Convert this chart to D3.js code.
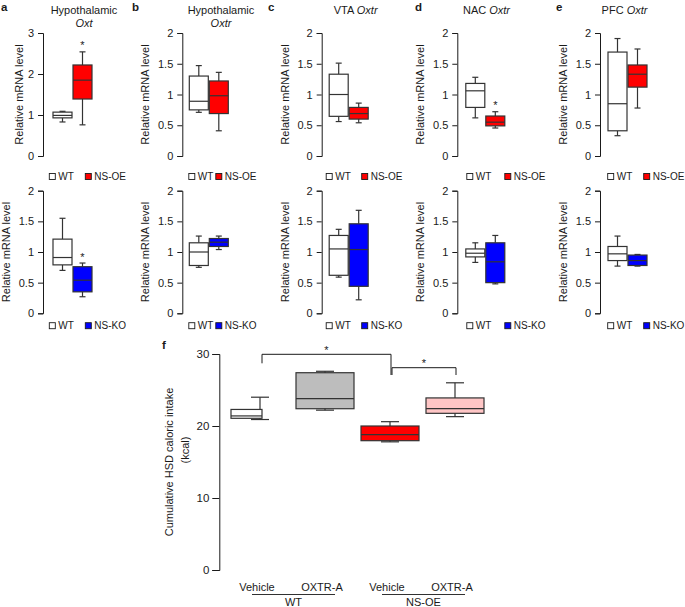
<!DOCTYPE html>
<html>
<head>
<meta charset="utf-8">
<style>
  body { margin: 0; background: #fff; }
  svg text { font-family: "Liberation Sans", Arial, sans-serif; fill: #1a1a1a; }
</style>
</head>
<body>
<div id="chart"></div>
<script src="https://d3js.org/d3.v7.min.js"></script>
<script>
// ---- data ----
const panelLetters = ['a', 'b', 'c', 'd', 'e'];
const titleRegion = ['Hypothalamic', 'Hypothalamic', 'VTA', 'NAC', 'PFC'];
const titleGene = ['Oxt', 'Oxtr', 'Oxtr', 'Oxtr', 'Oxtr'];
const topMax = [3, 2, 2, 2, 2];
const bottomMax = [2, 2, 2, 2, 2];
const oeGroups = ['WT', 'NS-OE'];
const koGroups = ['WT', 'NS-KO'];

// box stats: [low whisker, Q1, median, Q3, high whisker]
const oeWT = [
  [0.83, 0.93, 0.99, 1.07, 1.09],
  [0.71, 0.75, 0.89, 1.30, 1.47],
  [0.56, 0.645, 1.00, 1.33, 1.51],
  [0.62, 0.79, 1.06, 1.18, 1.28],
  [0.33, 0.41, 0.85, 1.69, 1.91]
];
const oeNS = [
  [0.76, 1.39, 1.85, 2.22, 2.54],
  [0.41, 0.69, 0.98, 1.22, 1.36],
  [0.54, 0.60, 0.69, 0.79, 0.86],
  [0.455, 0.49, 0.55, 0.65, 0.72],
  [0.78, 1.12, 1.33, 1.48, 1.74]
];
const koWT = [
  [0.70, 0.79, 0.91, 1.21, 1.55],
  [0.75, 0.78, 1.00, 1.15, 1.26],
  [0.59, 0.62, 1.05, 1.27, 1.37],
  [0.83, 0.92, 0.98, 1.05, 1.15],
  [0.77, 0.86, 0.97, 1.09, 1.26]
];
const koNS = [
  [0.27, 0.35, 0.54, 0.76, 0.82],
  [1.04, 1.09, 1.16, 1.22, 1.26],
  [0.22, 0.44, 1.04, 1.46, 1.68],
  [0.48, 0.50, 0.84, 1.15, 1.27],
  [0.77, 0.78, 0.86, 0.95, 0.96]
];
const oeSig = [true, false, false, true, false];
const koSig = [true, false, false, false, false];

// panel f
const fConditions = ['Vehicle', 'OXTR-A', 'Vehicle', 'OXTR-A'];
const fGenotypes = ['WT', 'NS-OE'];
const fStats = [
  [20.9, 21.07, 21.4, 22.3, 24.0],
  [22.2, 22.4, 23.8, 27.4, 27.6],
  [17.8, 17.96, 18.8, 20.0, 20.6],
  [21.3, 21.76, 22.4, 23.9, 26.0]
];
const fTicks = [0, 10, 20, 30];
const fComparisons = [[0, 2], [2, 3]];

// ---- layout / style ----
const W = 685, H = 607;
const ink = '#1a1a1a', boxInk = '#333';
const red = '#ff0000', blue = '#0000ff';
const colX = [43, 182.3, 321.7, 457.3, 600];
const boxOff = [10, 7, 7.5, 8.5, 8];
const titleOff = [41, 38.7, 34, 29.2, 24.5];
const letterX = [1, 132, 268, 415, 556];
const legendOff = [6.3, 6.5, 4.5, 9.5, 7.7];
const legendGap = [36, 27, 35.5, 38, 36];
const fmt = d3.format('~g');

const svg = d3.select('#chart').append('svg')
  .attr('width', W).attr('height', H);

function drawPanel(i, yBottom, yTop, max, groups, wt, ns, color, sig, legendY) {
  const ax = colX[i];
  const g = svg.append('g');
  const y = d3.scaleLinear().domain([0, max]).range([yBottom, yTop]);
  const x = d3.scaleBand().domain(groups)
    .range([ax + boxOff[i], ax + boxOff[i] + 39]).paddingInner(0.05);

  const axis = g.append('g').attr('transform', `translate(${ax},0)`)
    .call(d3.axisLeft(y).ticks(4).tickFormat(fmt)
      .tickSize(5).tickSizeOuter(5).tickPadding(4));
  axis.selectAll('path,line').attr('stroke', ink);
  axis.selectAll('text').attr('font-size', 11).attr('fill', ink)
    .attr('font-family', '"Liberation Sans", Arial, sans-serif');

  const labelOff = max === 3 ? 20 : 33;
  g.append('text')
    .attr('transform', `translate(${ax - labelOff},${(yBottom + yTop) / 2})rotate(-90)`)
    .attr('text-anchor', 'middle').attr('font-size', 11)
    .text('Relative mRNA level');

  const stats = [wt, ns];
  const fills = ['#fff', color];
  groups.forEach((grp, k) => {
    const s = stats[k];
    const x0 = x(grp), bw = x.bandwidth(), cx = x0 + bw / 2;
    const cap = 6;
    g.append('line').attr('x1', cx).attr('x2', cx)
      .attr('y1', y(s[0])).attr('y2', y(s[1]))
      .attr('stroke', boxInk).attr('stroke-width', 1.2);
    g.append('line').attr('x1', cx).attr('x2', cx)
      .attr('y1', y(s[3])).attr('y2', y(s[4]))
      .attr('stroke', boxInk).attr('stroke-width', 1.2);
    [s[0], s[4]].forEach(v => {
      g.append('line').attr('x1', cx - cap / 2).attr('x2', cx + cap / 2)
        .attr('y1', y(v)).attr('y2', y(v))
        .attr('stroke', boxInk).attr('stroke-width', 1.2);
    });
    g.append('rect').attr('x', x0).attr('width', bw)
      .attr('y', y(s[3])).attr('height', y(s[1]) - y(s[3]))
      .attr('fill', fills[k]).attr('stroke', boxInk).attr('stroke-width', 1.2);
    g.append('line').attr('x1', x0).attr('x2', x0 + bw)
      .attr('y1', y(s[2])).attr('y2', y(s[2]))
      .attr('stroke', boxInk).attr('stroke-width', 1.2);
    if (k === 1 && sig) {
      g.append('text').attr('x', cx).attr('y', y(s[4]) - 2.5)
        .attr('text-anchor', 'middle').attr('font-size', 11).text('*');
    }
  });

  // legend
  const lx = ax + legendOff[i];
  const items = [{ t: groups[0], c: '#fff', x: lx }, { t: groups[1], c: color, x: lx + legendGap[i] }];
  items.forEach(it => {
    g.append('rect').attr('x', it.x).attr('y', legendY - 3).attr('width', 6).attr('height', 6)
      .attr('fill', it.c).attr('stroke', ink).attr('stroke-width', 0.9);
    g.append('text').attr('x', it.x + 9).attr('y', legendY + 3.6)
      .attr('font-size', 10).text(it.t);
  });
}

panelLetters.forEach((p, i) => {
  drawPanel(i, 156, 33, topMax[i], oeGroups, oeWT[i], oeNS[i], red, oeSig[i], 176.5);
  drawPanel(i, 313.3, 190.7, bottomMax[i], koGroups, koWT[i], koNS[i], blue, koSig[i], 325.7);

  svg.append('text').attr('x', letterX[i]).attr('y', 10.5)
    .attr('font-size', 11.5).attr('font-weight', 'bold').text(p);

  const tx = colX[i] + titleOff[i];
  if (titleRegion[i] === 'Hypothalamic') {
    svg.append('text').attr('x', tx).attr('y', 13.5).attr('text-anchor', 'middle')
      .attr('font-size', 11).text(titleRegion[i]);
    svg.append('text').attr('x', tx).attr('y', 27).attr('text-anchor', 'middle')
      .attr('font-size', 11).attr('font-style', 'italic').text(titleGene[i]);
  } else {
    const t = svg.append('text').attr('x', tx).attr('y', 13.5).attr('text-anchor', 'middle')
      .attr('font-size', 11);
    t.append('tspan').text(titleRegion[i] + ' ');
    t.append('tspan').attr('font-style', 'italic').text(titleGene[i]);
  }
});

// ---- panel f ----
const fAxisX = 219.3;
const yF = d3.scaleLinear().domain([0, 30]).range([570, 354]);
const xF = d3.scalePoint().domain(d3.range(fConditions.length)).range([260, 455]);
const fFill = ['#ffffff', '#bdbdbd', red, '#ffc6c6'];
const fBoxW = [31, 58, 58, 58];
const gf = svg.append('g');

svg.append('text').attr('x', 162).attr('y', 349)
  .attr('font-size', 11.5).attr('font-weight', 'bold').text('f');

const fAxis = gf.append('g').attr('transform', `translate(${fAxisX},0)`)
  .call(d3.axisLeft(yF).tickValues(fTicks).tickSize(7).tickSizeOuter(7).tickPadding(3));
fAxis.selectAll('path,line').attr('stroke', ink);
fAxis.selectAll('text').attr('font-size', 11.5).attr('fill', ink)
  .attr('font-family', '"Liberation Sans", Arial, sans-serif');

gf.append('text').attr('transform', `translate(173,462)rotate(-90)`)
  .attr('text-anchor', 'middle').attr('font-size', 11).text('Cumulative HSD caloric intake');
gf.append('text').attr('transform', `translate(189,450)rotate(-90)`)
  .attr('text-anchor', 'middle').attr('font-size', 11).text('(kcal)');

fStats.forEach((s, i) => {
  const cx = xF(i), x0 = cx - 29, bw = fBoxW[i], cap = 18;
  gf.append('line').attr('x1', cx).attr('x2', cx).attr('y1', yF(s[0])).attr('y2', yF(s[4]))
    .attr('stroke', boxInk).attr('stroke-width', 1.2);
  [s[0], s[4]].forEach(v => {
    gf.append('line').attr('x1', cx - cap / 2).attr('x2', cx + cap / 2)
      .attr('y1', yF(v)).attr('y2', yF(v)).attr('stroke', boxInk).attr('stroke-width', 1.2);
  });
  gf.append('rect').attr('x', x0).attr('width', bw)
    .attr('y', yF(s[3])).attr('height', yF(s[1]) - yF(s[3]))
    .attr('fill', fFill[i]).attr('stroke', boxInk).attr('stroke-width', 1.2);
  gf.append('line').attr('x1', x0).attr('x2', x0 + bw)
    .attr('y1', yF(s[2])).attr('y2', yF(s[2])).attr('stroke', boxInk).attr('stroke-width', 1.2);
  gf.append('text').attr('x', cx - 3).attr('y', 590.5).attr('text-anchor', 'middle')
    .attr('font-size', 11).text(fConditions[i]);
});

fGenotypes.forEach((gname, k) => {
  const a = xF(k * 2) - 8, b = xF(k * 2 + 1) + 10;
  gf.append('line').attr('x1', a).attr('x2', b).attr('y1', 594.5).attr('y2', 594.5)
    .attr('stroke', ink).attr('stroke-width', 0.9);
  gf.append('text').attr('x', (a + b) / 2).attr('y', 605.5).attr('text-anchor', 'middle')
    .attr('font-size', 11).text(gname);
});

// significance brackets
const bracketY = [354.3, 367.7];
const bracketLegs = [[363.3, 375], [375, 375]];
fComparisons.forEach((c, k) => {
  const a = xF(c[0]) + 2, b = xF(c[1]) + 1;
  const path = d3.path();
  path.moveTo(a, bracketLegs[k][0]);
  path.lineTo(a, bracketY[k]);
  path.lineTo(b, bracketY[k]);
  path.lineTo(b, bracketLegs[k][1]);
  gf.append('path').attr('d', path.toString()).attr('fill', 'none')
    .attr('stroke', ink).attr('stroke-width', 1);
  gf.append('text').attr('x', (a + b) / 2).attr('y', bracketY[k] - 0.5)
    .attr('text-anchor', 'middle').attr('font-size', 11).text('*');
});
</script>
</body>
</html>
